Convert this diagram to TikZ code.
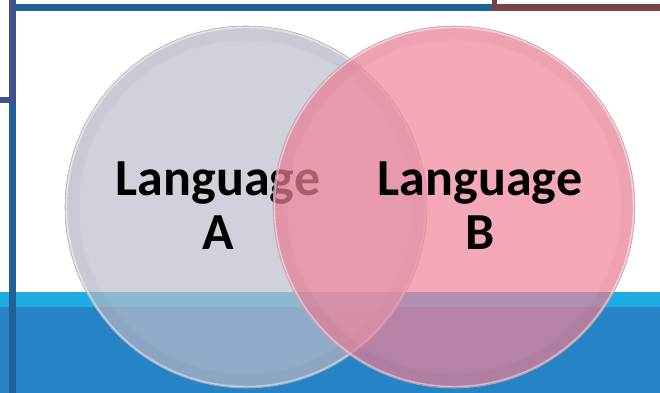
\documentclass[tikz,border=0pt]{standalone}
\usepackage{fontspec}
\setmainfont{Carlito}
\usepackage{tikz}
\usetikzlibrary{positioning}
\definecolor{frameBlue}{HTML}{1F6296}
\definecolor{framePurple}{HTML}{3F5290}
\definecolor{frameBrown}{HTML}{7A4141}
\definecolor{bandLight}{HTML}{1DACE3}
\definecolor{bandDark}{HTML}{2683C6}
\definecolor{langGray}{HTML}{BDBECC}
\definecolor{langPink}{HTML}{F1849B}

\begin{document}
\begin{tikzpicture}[x=0.025cm, y=-0.025cm,
  lang/.style={font=\bfseries\fontsize{37}{39}\selectfont, align=center, anchor=base, text=black, inner sep=0pt},
  bubble/.style={fill opacity=0.71}]
  \useasboundingbox (0,0) rectangle (660,393);

  % Bands at the bottom
  \fill[bandLight] (0,292) rectangle (660,307);
  \fill[bandDark] (0,307) rectangle (660,393);

  % Frame lines
  \fill[frameBlue] (16,4) rectangle (493,11);
  \fill[frameBrown] (492,0) rectangle (497,11);
  \fill[frameBrown] (497,4) rectangle (660,11);
  \fill[framePurple] (9,0) rectangle (16,103);
  \fill[framePurple] (0,97) rectangle (16,103);
  \fill[frameBlue] (9,103) rectangle (16,393);

  % Language A
  \fill[langGray, bubble] (246,207) circle (181);
  \foreach \r in {168,170,...,178}
    \draw[black, draw opacity=0.018, line width=2.2pt] (246,207) circle (\r);
  \draw[white, draw opacity=0.45, line width=1pt] (246,207) circle (179.5);
  \draw[gray!60, line width=0.4pt] (246,207) circle (181);
  \node[lang] (langA) at (218,250) {Language\\A};

  % Language B
  \fill[langPink, bubble] (454,207) circle (181);
  \foreach \r in {168,170,...,178}
    \draw[black, draw opacity=0.018, line width=2.2pt] (454,207) circle (\r);
  \draw[white, draw opacity=0.45, line width=1pt] (454,207) circle (179.5);
  \draw[gray!60, line width=0.4pt] (454,207) circle (181);
  \node[lang] (langB) at (480,250) {Language\\B};
\end{tikzpicture}
\end{document}
